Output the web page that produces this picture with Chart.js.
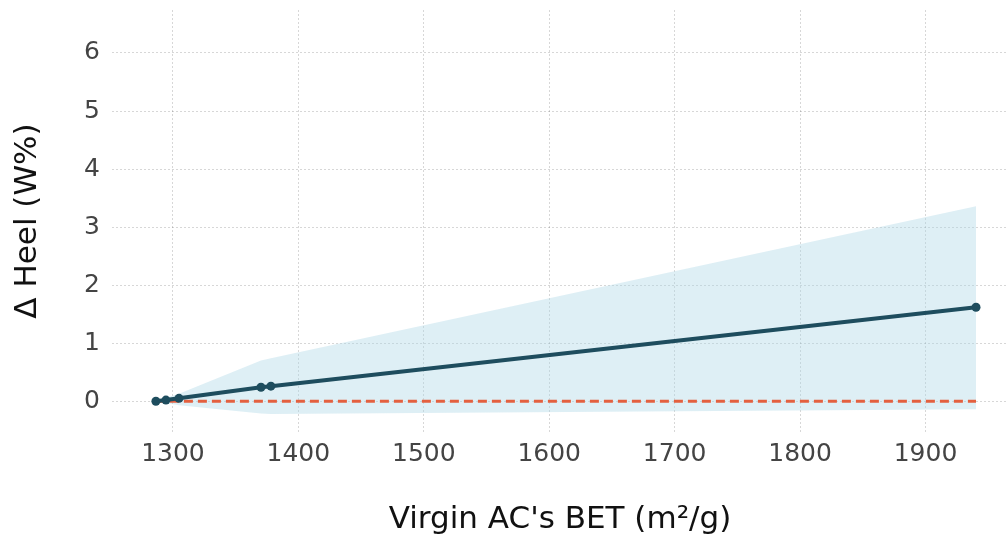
<!DOCTYPE html>
<html>
<head>
<meta charset="utf-8">
<script src="https://cdn.jsdelivr.net/npm/chart.js@4/dist/chart.umd.min.js"></script>
<style>
  html, body { margin: 0; padding: 0; background: #fff; overflow: hidden; }
  #wrap { width: 1008px; height: 539px; position: relative; }
  canvas { display: block; }
</style>
</head>
<body>
<div id="wrap"><canvas id="chart"></canvas></div>
<script>
// BET surface area of virgin AC (m²/g) and heel change
const bet = [1286.4, 1294.4, 1304.8, 1370.2, 1378.1, 1940.3];
const heel = [0.0, 0.02, 0.05, 0.24, 0.26, 1.62];
const bandUpper = [0.0, 0.06, 0.13, 0.70, 0.74, 3.36];
const bandLower = [0.0, -0.03, -0.07, -0.21, -0.22, -0.14];
const baselineX = [1286.4, 1940.3];
const baselineY = [0, 0];

const toXY = (xs, ys) => xs.map((x, i) => ({ x: x, y: ys[i] }));

const fontFamily = "'DejaVu Sans', sans-serif";

const ctx = document.getElementById('chart').getContext('2d');
new Chart(ctx, {
    type: 'line',
    data: {
        datasets: [
            {
                label: 'fit',
                data: toXY(bet, heel),
                borderColor: '#1e4d5e',
                backgroundColor: '#1e4d5e',
                borderWidth: 4,
                pointRadius: 4.5,
                pointBorderWidth: 0,
                pointHoverRadius: 4.5,
                fill: false,
                order: 0
            },
            {
                label: 'zero',
                data: toXY(baselineX, baselineY),
                borderColor: '#e4603f',
                borderWidth: 3,
                borderDash: [9, 5],
                pointRadius: 0,
                fill: false,
                order: 1
            },
            {
                label: 'lower',
                data: toXY(bet, bandLower),
                borderWidth: 0,
                borderColor: 'rgba(0,0,0,0)',
                pointRadius: 0,
                fill: false,
                order: 3
            },
            {
                label: 'upper',
                data: toXY(bet, bandUpper),
                borderWidth: 0,
                borderColor: 'rgba(0,0,0,0)',
                backgroundColor: 'rgba(173, 216, 230, 0.4)',
                pointRadius: 0,
                fill: '-1',
                order: 2
            }
        ]
    },
    options: {
        responsive: true,
        maintainAspectRatio: false,
        animation: false,
        layout: {
            autoPadding: false,
            padding: { top: 10, right: 0, left: 0, bottom: 0 }
        },
        plugins: {
            legend: { display: false },
            tooltip: { enabled: false },
            filler: { propagate: false }
        },
        scales: {
            x: {
                type: 'linear',
                min: 1251.4,
                max: 1965.8,
                border: { display: false, dash: [2, 2] },
                grid: {
                    color: 'rgba(0,0,0,0.2)',
                    lineWidth: 0.8,
                    drawTicks: false
                },
                ticks: {
                    stepSize: 100,
                    includeBounds: false,
                    padding: 7,
                    color: '#444',
                    font: { family: fontFamily, size: 25 },
                    callback: (v) => String(v)
                },
                title: {
                    display: true,
                    text: "Virgin AC's BET (m²/g)",
                    color: '#111',
                    padding: { top: 0, bottom: 0 },
                    font: { family: fontFamily, size: 31 }
                },
                afterFit: (scale) => {
                    scale.height = 107;
                    scale.paddingLeft = 0;
                    scale.paddingRight = 0;
                }
            },
            y: {
                type: 'linear',
                min: -0.53,
                max: 6.74,
                border: { display: false, dash: [2, 2] },
                grid: {
                    color: 'rgba(0,0,0,0.2)',
                    lineWidth: 0.8,
                    drawTicks: false
                },
                ticks: {
                    stepSize: 1,
                    includeBounds: false,
                    padding: 12,
                    color: '#444',
                    font: { family: fontFamily, size: 25 },
                    callback: (v) => String(v)
                },
                title: {
                    display: true,
                    text: 'Δ Heel (W%)',
                    color: '#111',
                    padding: { top: 9, bottom: 0 },
                    font: { family: fontFamily, size: 31 }
                },
                afterFit: (scale) => {
                    scale.width = 112;
                    scale.paddingTop = 0;
                    scale.paddingBottom = 0;
                }
            }
        }
    }
});
</script>
</body>
</html>
